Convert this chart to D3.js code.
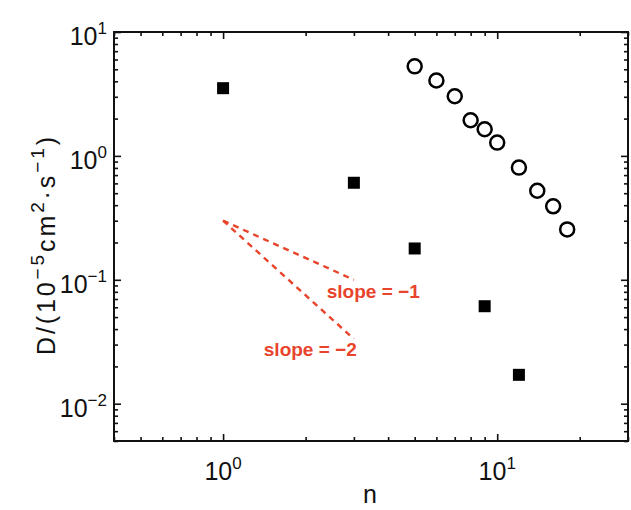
<!DOCTYPE html>
<html>
<head>
<meta charset="utf-8">
<script src="https://cdn.jsdelivr.net/npm/d3@7"></script>
<style>
  body { margin: 0; background: #fff; }
  svg { display: block; }
</style>
</head>
<body>
<div id="chart"></div>
<script>
// data
const squareN = [1, 3, 5, 9, 12];
const squareD = [3.52, 0.607, 0.179, 0.0612, 0.0171];
const circleN = [5, 6, 7, 8, 9, 10, 12, 14, 16, 18];
const circleD = [5.28, 4.06, 3.03, 1.94, 1.64, 1.28, 0.805, 0.523, 0.392, 0.255];
const slopeN = [1, 3];
const slope1D = [0.3, 0.1];
const slope2D = [0.3, 0.0333];
const xTickExp = [0, 1];
const yTickExp = [1, 0, -1, -2];

const width = 631, height = 510;
const margin = { top: 32, right: 3, bottom: 69, left: 114 };
const font = "'Liberation Sans', Arial, Helvetica, sans-serif";
const red = "#e8442c";

const svg = d3.select("#chart").append("svg")
  .attr("width", width).attr("height", height)
  .style("background-color", "white");

const x = d3.scaleLog().domain([0.4, 30]).range([margin.left, width - margin.right]);
const y = d3.scaleLog().domain([0.005, 10]).range([height - margin.bottom, margin.top]);

const x0 = margin.left, x1 = width - margin.right;
const y0 = height - margin.bottom, y1 = margin.top;

// minor / major ticks (inward, on all four sides)
const xMinor = x.ticks().filter(d => !xTickExp.map(e => 10 ** e).includes(d));
const yMinor = y.ticks().filter(d => !yTickExp.map(e => 10 ** e).some(v => Math.abs(v - d) < 1e-9));

function tickAxis(axisFn, scale, values, size, pos) {
  svg.append("g")
    .attr("transform", pos)
    .call(axisFn(scale).tickValues(values).tickSize(size).tickFormat(""))
    .call(g => g.select(".domain").remove())
    .call(g => g.selectAll("line").attr("stroke", "#111").attr("stroke-width", 1.6));
}
tickAxis(d3.axisBottom, x, xMinor, -4, `translate(0,${y0})`);
tickAxis(d3.axisBottom, x, xTickExp.map(e => 10 ** e), -7, `translate(0,${y0})`);
tickAxis(d3.axisTop, x, xMinor, -4, `translate(0,${y1})`);
tickAxis(d3.axisTop, x, xTickExp.map(e => 10 ** e), -7, `translate(0,${y1})`);
tickAxis(d3.axisLeft, y, yMinor, -4, `translate(${x0},0)`);
tickAxis(d3.axisLeft, y, yTickExp.map(e => 10 ** e), -7, `translate(${x0},0)`);
tickAxis(d3.axisRight, y, yMinor, -4, `translate(${x1},0)`);
tickAxis(d3.axisRight, y, yTickExp.map(e => 10 ** e), -7, `translate(${x1},0)`);

// frame
svg.append("rect")
  .attr("x", x0).attr("y", y1)
  .attr("width", x1 - x0).attr("height", y0 - y1)
  .attr("fill", "none").attr("stroke", "#111").attr("stroke-width", 2);

// tick labels 10^k
function powLabel(sel, e) {
  sel.append("tspan").text("10");
  sel.append("tspan").attr("dy", -11).attr("font-size", 17).text(e < 0 ? "\u2212" + (-e) : e);
}
svg.append("g").selectAll("text").data(xTickExp).join("text")
  .attr("x", d => x(10 ** d))
  .attr("y", y0 + 39)
  .attr("text-anchor", "middle")
  .attr("font-family", font).attr("font-size", 25).attr("fill", "#111")
  .each(function (d) { powLabel(d3.select(this), d); });

svg.append("g").selectAll("text").data(yTickExp).join("text")
  .attr("x", x0 - 7)
  .attr("y", d => y(10 ** d) + 13)
  .attr("text-anchor", "end")
  .attr("font-family", font).attr("font-size", 25).attr("fill", "#111")
  .each(function (d) { powLabel(d3.select(this), d); });

// axis titles
svg.append("text")
  .attr("x", (x0 + x1) / 2 - 1).attr("y", 503)
  .attr("text-anchor", "middle")
  .attr("font-family", font).attr("font-size", 25).attr("fill", "#111")
  .text("n");

const yl = svg.append("text")
  .attr("transform", `translate(55,246) rotate(-90)`)
  .attr("text-anchor", "middle")
  .attr("textLength", 218)
  .attr("lengthAdjust", "spacing")
  .attr("font-family", font).attr("font-size", 25).attr("fill", "#111");
yl.append("tspan").text("D/(10");
yl.append("tspan").attr("dy", -11).attr("font-size", 19).text("\u22125");
yl.append("tspan").attr("dy", 11).text("cm");
yl.append("tspan").attr("dy", -11).attr("font-size", 19).text("2");
yl.append("tspan").attr("dy", 11).text("\u00b7s");
yl.append("tspan").attr("dy", -11).attr("font-size", 19).text("\u22121");
yl.append("tspan").attr("dy", 11).text(")");

// slope guide lines
const line = d3.line().x((d, i) => x(slopeN[i])).y(d => y(d));
[slope1D, slope2D].forEach(vals => {
  svg.append("path")
    .attr("d", line(vals))
    .attr("fill", "none")
    .attr("stroke", red)
    .attr("stroke-width", 2.4)
    .attr("stroke-dasharray", "6,5");
});

svg.append("text")
  .attr("x", x(3.53)).attr("y", y(0.071))
  .attr("text-anchor", "middle")
  .attr("font-family", font).attr("font-size", 19).attr("font-weight", 700)
  .attr("fill", red)
  .text("slope = \u22121");
svg.append("text")
  .attr("x", x(2.08)).attr("y", y(0.0244))
  .attr("text-anchor", "middle")
  .attr("font-family", font).attr("font-size", 19).attr("font-weight", 700)
  .attr("fill", red)
  .text("slope = \u22122");

// data markers
const sq = 12;
svg.append("g").selectAll("rect").data(squareN).join("rect")
  .attr("x", d => x(d) - sq / 2)
  .attr("y", (d, i) => y(squareD[i]) - sq / 2)
  .attr("width", sq).attr("height", sq)
  .attr("fill", "#000");

svg.append("g").selectAll("circle").data(circleN).join("circle")
  .attr("cx", d => x(d))
  .attr("cy", (d, i) => y(circleD[i]))
  .attr("r", 7)
  .attr("fill", "none")
  .attr("stroke", "#000")
  .attr("stroke-width", 2.5);
</script>
</body>
</html>
